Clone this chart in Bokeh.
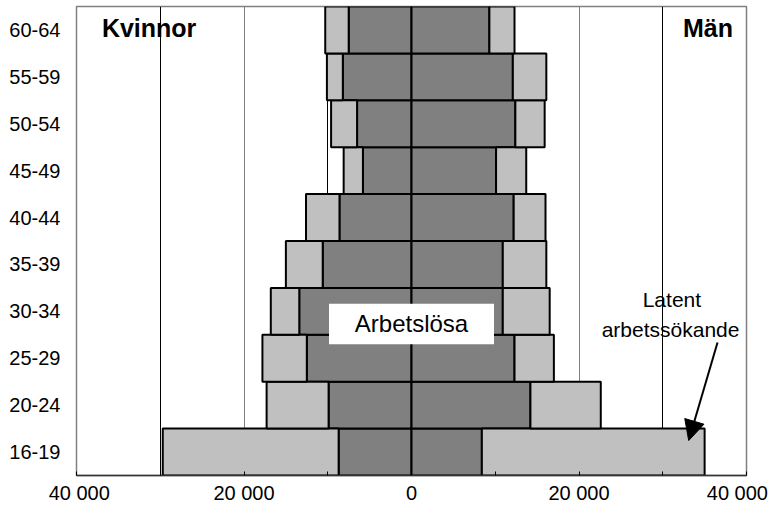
from bokeh.plotting import figure
from bokeh.models import Range1d, FixedTicker, Grid, Label, BoxAnnotation, Arrow, NormalHead
from bokeh.embed import file_html
from bokeh.resources import INLINE

# Data, bottom to top
age_groups = ["16-19", "20-24", "25-29", "30-34", "35-39",
              "40-44", "45-49", "50-54", "55-59", "60-64"]
kvinnor_arbetslosa = [8700, 9900, 12500, 13400, 10600, 8600, 5800, 6500, 8200, 7500]
kvinnor_latent = [21000, 7400, 5300, 3400, 4400, 4000, 2300, 3100, 1900, 2800]
man_arbetslosa = [8400, 14200, 12300, 10900, 10900, 12200, 10100, 12400, 12100, 9300]
man_latent = [26600, 8400, 4700, 5600, 5200, 3800, 3600, 3500, 4000, 3000]

x_ticks = [-40000, -20000, 0, 20000, 40000]
x_tick_labels = ["40 000", "20 000", "0", "20 000", "40 000"]
x_minor_ticks = [-30000, -10000, 10000, 30000]

FONT = "Liberation Sans"
DARK = "#808080"
LIGHT = "#c0c0c0"

n = len(age_groups)
yc = [i + 0.5 for i in range(n)]

p = figure(width=773, height=506,
           x_range=Range1d(-40000, 40000), y_range=Range1d(0, n),
           output_backend="svg", toolbar_location=None,
           min_border_left=76, min_border_right=27,
           min_border_top=6, min_border_bottom=30)
p.background_fill_color = "white"
p.border_fill_color = "white"
p.outline_line_color = "#808080"
p.outline_line_width = 1.5
p.xgrid.visible = False
p.ygrid.visible = False

# grid lines
g_black = Grid(dimension=0, ticker=FixedTicker(ticks=x_minor_ticks),
               grid_line_color="black", grid_line_width=1)
g_grey = Grid(dimension=0, ticker=FixedTicker(ticks=[-20000, 20000]),
              grid_line_color="#808080", grid_line_width=1)
p.add_layout(g_black)
p.add_layout(g_grey)

# women (negative side)
kv_dark_left = [-a for a in kvinnor_arbetslosa]
kv_light_left = [-(a + l) for a, l in zip(kvinnor_arbetslosa, kvinnor_latent)]
p.hbar(y=yc, height=1, left=kv_dark_left, right=0,
       fill_color=DARK, line_color="black", line_width=2)
p.hbar(y=yc, height=1, left=kv_light_left, right=kv_dark_left,
       fill_color=LIGHT, line_color="black", line_width=2)

# men (positive side)
man_light_right = [a + l for a, l in zip(man_arbetslosa, man_latent)]
p.hbar(y=yc, height=1, left=0, right=man_arbetslosa,
       fill_color=DARK, line_color="black", line_width=2)
p.hbar(y=yc, height=1, left=man_arbetslosa, right=man_light_right,
       fill_color=LIGHT, line_color="black", line_width=2)

# x axis
xa = p.xaxis[0]
xa.ticker = FixedTicker(ticks=x_ticks, minor_ticks=x_minor_ticks)
overrides = {t: lab for t, lab in zip(x_ticks, x_tick_labels)}
overrides[x_ticks[0]] = "\u00a0" + x_tick_labels[0]
overrides[x_ticks[-1]] = x_tick_labels[-1] + "\u00a0"
xa.major_label_overrides = overrides
xa.major_label_text_font = FONT
xa.major_label_text_font_size = "20px"
xa.major_label_text_color = "black"
xa.major_label_standoff = 6
xa.major_tick_in = 4
xa.major_tick_out = 0
xa.minor_tick_in = 4
xa.minor_tick_out = 0
xa.major_tick_line_color = "black"
xa.minor_tick_line_color = "black"
xa.axis_line_color = "#333333"
xa.axis_line_width = 1.5

# y axis
ya = p.yaxis[0]
ya.ticker = FixedTicker(ticks=yc)
ya.major_label_overrides = {c: lab for c, lab in zip(yc, age_groups)}
ya.major_label_text_font = FONT
ya.major_label_text_font_size = "20px"
ya.major_label_text_color = "black"
ya.major_label_standoff = 16
ya.major_tick_in = 0
ya.major_tick_out = 0
ya.minor_tick_line_color = None
ya.axis_line_color = None

# annotations
p.add_layout(Label(x=-36970, y=9.543, text="Kvinnor", text_align="left",
                   text_baseline="middle", text_font=FONT, text_color="black",
                   text_font_style="bold", text_font_size="25px"))
p.add_layout(Label(x=38380, y=9.543, text="Män", text_align="right",
                   text_baseline="middle", text_font=FONT, text_color="black",
                   text_font_style="bold", text_font_size="25px"))

p.add_layout(BoxAnnotation(left=-9850, right=9850, bottom=2.80, top=3.66,
                           fill_color="white", fill_alpha=1.0,
                           line_color=None))
p.add_layout(Label(x=0, y=3.234, text="Arbetslösa", text_align="center",
                   text_baseline="middle", text_font=FONT, text_color="black",
                   text_font_size="24px"))

p.add_layout(Label(x=31090, y=3.745, text="Latent", text_align="center",
                   text_baseline="middle", text_font=FONT, text_color="black",
                   text_font_size="21px"))
p.add_layout(Label(x=30930, y=3.117, text="arbetssökande", text_align="center",
                   text_baseline="middle", text_font=FONT, text_color="black",
                   text_font_size="21px"))
p.add_layout(Arrow(end=NormalHead(size=20, fill_color="black", line_color="black"),
                   x_start=36540, y_start=2.836, x_end=33100, y_end=0.745,
                   line_width=2, line_color="black"))

open("out.html", "w").write(file_html(p, INLINE))
